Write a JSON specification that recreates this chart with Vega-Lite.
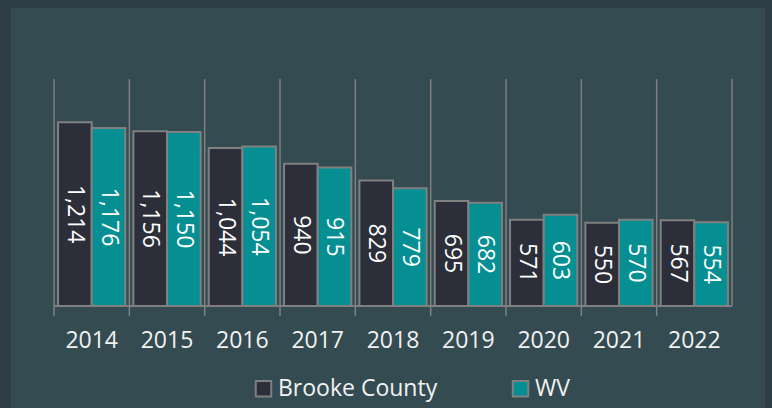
{
  "$schema": "https://vega.github.io/schema/vega-lite/v6.json",
  "width": 754,
  "height": 400,
  "autosize": {"type": "none"},
  "padding": {"left": 11, "top": 8, "right": 7, "bottom": 0},
  "background": "#2f3e46",
  "config": {
    "view": {"fill": "#334b51", "stroke": null},
    "font": "Open Sans"
  },
  "data": {
    "values": [
      {"year": "2014", "series": "Brooke County", "value": 1214},
      {"year": "2014", "series": "WV", "value": 1176},
      {"year": "2015", "series": "Brooke County", "value": 1156},
      {"year": "2015", "series": "WV", "value": 1150},
      {"year": "2016", "series": "Brooke County", "value": 1044},
      {"year": "2016", "series": "WV", "value": 1054},
      {"year": "2017", "series": "Brooke County", "value": 940},
      {"year": "2017", "series": "WV", "value": 915},
      {"year": "2018", "series": "Brooke County", "value": 829},
      {"year": "2018", "series": "WV", "value": 779},
      {"year": "2019", "series": "Brooke County", "value": 695},
      {"year": "2019", "series": "WV", "value": 682},
      {"year": "2020", "series": "Brooke County", "value": 571},
      {"year": "2020", "series": "WV", "value": 603},
      {"year": "2021", "series": "Brooke County", "value": 550},
      {"year": "2021", "series": "WV", "value": 570},
      {"year": "2022", "series": "Brooke County", "value": 567},
      {"year": "2022", "series": "WV", "value": 554}
    ]
  },
  "resolve": {"scale": {"y": "independent"}},
  "encoding": {
    "x": {
      "field": "year",
      "type": "nominal",
      "axis": null,
      "scale": {"paddingInner": 0, "paddingOuter": 0.5045, "align": 0.566}
    }
  },
  "layer": [
    {
      "transform": [{"filter": "datum.series === 'Brooke County'"}],
      "mark": {"type": "rule", "color": "#808080", "strokeWidth": 1.5},
      "encoding": {
        "x": {"field": "year", "type": "nominal", "bandPosition": 0},
        "y": {"datum": 1500, "type": "quantitative", "scale": {"domain": [-674, 1970], "nice": false, "zero": false}, "axis": null},
        "y2": {"datum": -66}
      }
    },
    {
      "transform": [{"filter": "datum.series === 'Brooke County' && datum.year === '2022'"}],
      "mark": {"type": "rule", "color": "#808080", "strokeWidth": 1.5},
      "encoding": {
        "x": {"field": "year", "type": "nominal", "bandPosition": 1},
        "y": {"datum": 1500, "type": "quantitative", "scale": {"domain": [-674, 1970], "nice": false, "zero": false}, "axis": null},
        "y2": {"datum": 0}
      }
    },
    {
      "transform": [{"filter": "datum.series === 'Brooke County'"}],
      "mark": {"type": "rule", "color": "#808080", "strokeWidth": 2},
      "encoding": {
        "x": {"field": "year", "type": "nominal", "bandPosition": 0},
        "x2": {"field": "year", "bandPosition": 1},
        "y": {"datum": 0, "type": "quantitative", "scale": {"domain": [-674, 1970], "nice": false, "zero": false}, "axis": null}
      }
    },
    {
      "mark": {"type": "bar", "stroke": "#808080", "strokeWidth": 2},
      "encoding": {
        "xOffset": {"field": "series", "type": "nominal", "scale": {"paddingOuter": 0.12, "paddingInner": 0}},
        "y": {"field": "value", "type": "quantitative", "scale": {"domain": [-674, 1970], "nice": false, "zero": false}, "axis": null},
        "color": {
          "field": "series",
          "type": "nominal",
          "scale": {"domain": ["Brooke County", "WV"], "range": ["#2c2f3a", "#058f93"]},
          "legend": {
            "title": null,
            "orient": "none",
            "direction": "horizontal",
            "legendX": 241,
            "legendY": 369,
            "symbolType": "square",
            "symbolSize": 240,
            "symbolStrokeColor": "#808080",
            "symbolStrokeWidth": 2,
            "symbolOpacity": 1,
            "labelFont": "Open Sans",
            "labelFontSize": 23,
            "labelColor": "#f2f2f2",
            "labelOffset": 3,
            "columnPadding": 70,
            "labelLimit": 300
          }
        }
      }
    },
    {
      "mark": {"type": "text", "angle": 90, "align": "center", "baseline": "middle", "color": "#ffffff", "fontSize": 23, "font": "Open Sans"},
      "encoding": {
        "xOffset": {"field": "series", "type": "nominal", "scale": {"paddingOuter": 0.12, "paddingInner": 0}},
        "y": {"field": "value", "type": "quantitative", "scale": {"domain": [-1348, 3940], "nice": false, "zero": false}, "axis": null},
        "text": {"field": "value", "type": "quantitative", "format": ","}
      }
    },
    {
      "transform": [{"filter": "datum.series === 'Brooke County'"}],
      "mark": {"type": "text", "align": "center", "baseline": "middle", "color": "#f2f2f2", "fontSize": 23, "font": "Open Sans"},
      "encoding": {
        "y": {"datum": -230, "type": "quantitative", "scale": {"domain": [-674, 1970], "nice": false, "zero": false}, "axis": null},
        "text": {"field": "year", "type": "nominal"}
      }
    }
  ]
}
